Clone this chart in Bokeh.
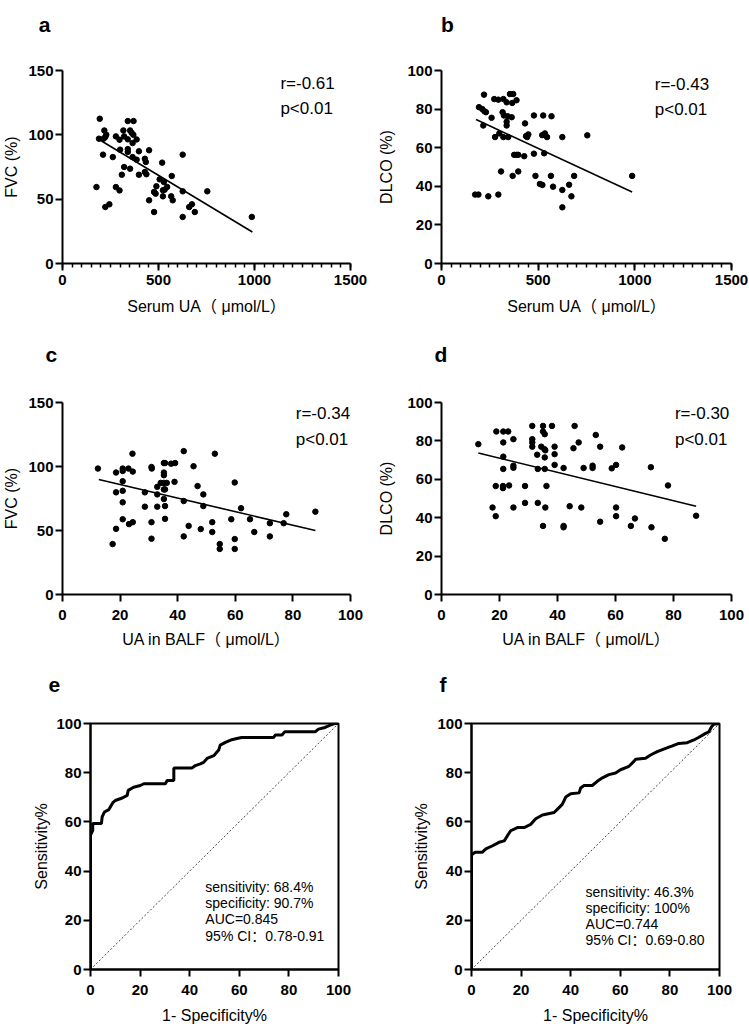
from bokeh.plotting import figure
from bokeh.layouts import column, row
from bokeh.models import Range1d, SingleIntervalTicker
from bokeh.embed import file_html
from bokeh.resources import INLINE
from bokeh.core.properties import value

# ---------------- data ----------------
# panel a: serum UA vs FVC
serum_ua_a = [194, 177, 218, 228, 223, 214, 190, 211, 262, 278, 297, 317, 321, 340, 370, 352, 360, 369,
              340, 386, 365, 300, 340, 340, 398, 451, 365, 386, 429, 434, 321, 352, 309, 398, 429, 437,
              519, 626, 569, 506, 528, 545, 532, 489, 523, 477, 485, 523, 566, 574, 626, 754, 451, 278,
              297, 223, 244, 477, 626, 660, 674, 689, 986]
fvc_a = [112.5, 59.4, 103.4, 100.1, 98.3, 97, 97, 84.6, 82.7, 98.8, 96.2, 103.4, 98.8, 110.7, 110.7, 103.4,
         101.6, 100, 96.5, 96.4, 93.6, 88.5, 88.9, 86.7, 87.2, 88, 82.7, 80.7, 81.4, 78.9, 75, 73.7, 69, 69,
         71.1, 69.4, 78.4, 84.6, 68, 65.4, 63.3, 59.5, 57.4, 60, 56.9, 55.6, 54.3, 52.2, 52.2, 49.1, 56.1,
         56.1, 49.1, 59.4, 56.8, 43.9, 46, 40, 36.2, 43.9, 46, 40, 36.2]
fit_a_x = [184, 989]
fit_a_y = [97, 24.5]

# panel b: serum UA vs DLCO
serum_ua_b = [220, 273, 294, 320, 354, 371, 388, 337, 366, 194, 211, 222, 230, 216, 259, 316, 323, 342,
              363, 337, 337, 299, 277, 320, 345, 432, 478, 526, 569, 437, 449, 443, 521, 535, 546, 625,
              754, 376, 388, 397, 428, 478, 531, 308, 397, 368, 486, 566, 686, 986, 509, 522, 577, 660,
              625, 672, 174, 191, 242, 294, 625]
dlco_b = [87.5, 85.2, 84.9, 85.2, 87.8, 87.8, 84.6, 83.5, 83.2, 81, 80, 78.9, 78.4, 71.5, 75.5, 78.4, 76.7,
          76.3, 75.8, 73.4, 71.5, 67.4, 65.5, 65.5, 65.5, 72.6, 76.7, 76.7, 76.3, 66, 66.9, 65.5, 66.5,
          67.4, 65.5, 65.5, 66.4, 56.3, 56.3, 56.3, 55.6, 56.9, 57.1, 47.7, 47.7, 45.4, 45.4, 45.4, 45.4,
          45.4, 41.2, 40.7, 39.8, 40.8, 38.1, 34.8, 35.7, 35.7, 34.8, 35.7, 29.1]
fit_b_x = [179, 986]
fit_b_y = [74.6, 37]

# panel c: UA in BALF vs FVC
balf_c = [12.3, 17.4, 18.6, 18.6, 18.6, 20.9, 20.9, 22.9, 24.3, 24.4, 20.9, 20.9, 20.9, 20.9, 23.1, 24.4,
          28.6, 28.6, 30.9, 31, 30.9, 30.9, 32.9, 32.9, 32.9, 34.1, 35.2, 35.6, 35.2, 35.2, 35.2, 36.2,
          35.2, 35.6, 35.2, 35.6, 35.6, 37.7, 39.1, 38.9, 42.1, 42.1, 42.1, 43.8, 45.5, 46.9, 48.9, 48.9,
          48, 52, 52, 52.9, 54.6, 54.6, 58.6, 59.8, 59.8, 59.8, 62, 65.1, 66.6, 72, 72, 76.8, 77.7, 87.8]
fvc_c = [98.4, 39.4, 95.3, 79.8, 51.3, 98.4, 96.5, 98.4, 110, 96, 88.5, 81, 72, 58.8, 55, 56.5, 79.8, 68.6,
         99.6, 98.4, 56.5, 43.6, 84.1, 78.2, 68.6, 87.2, 102.7, 102.7, 95.3, 93.2, 87.2, 87.2, 82.1, 82.1,
         74.6, 69.1, 59.1, 102.2, 102.7, 88, 112, 73, 45.4, 53.6, 100.2, 84.7, 78.2, 69.1, 51.1, 56.5,
         48.8, 110, 39.4, 35.6, 58.8, 87.5, 43.3, 35.6, 67.4, 58.8, 48.8, 55.7, 45.4, 55.7, 62.7, 64.7]
fit_c_x = [12.6, 87.8]
fit_c_y = [89.8, 50]

# panel d: UA in BALF vs DLCO
balf_d = [12.7, 17.6, 18.7, 18.9, 21.3, 23, 21.3, 24.8, 21.3, 21.3, 24.8, 24.8, 18.7, 21.2, 21.2, 23.3,
          24.8, 28.8, 28.8, 31.3, 31.3, 31.3, 31.3, 33, 33.2, 33.2, 35, 35, 35.6, 34.4, 35.5, 35.8, 35.6,
          35.6, 36.2, 35.8, 35, 38.1, 39, 39, 39, 42.1, 42.1, 42.1, 44.2, 45.9, 47.3, 45.5, 48.2, 49,
          52.1, 52.1, 53.2, 54.7, 54.7, 58.7, 60.2, 60.2, 60.2, 62.3, 65.3, 66.7, 72.2, 72.4, 77, 78.1, 87.8]
dlco_d = [78.3, 45.3, 40.8, 84.9, 84.9, 84.9, 79.2, 80.9, 71.8, 65.4, 67.1, 66, 56.5, 56.5, 55.4, 56.8,
          45.3, 56.5, 47.7, 87.8, 80.9, 79.2, 77, 72.8, 65.4, 47.7, 87.8, 84.9, 83.5, 77, 75.7, 75.1, 71.4,
          65.4, 56.5, 45.3, 35.7, 87.8, 77, 73.1, 67.5, 65.9, 35.7, 35, 46, 87.8, 79.2, 76.2, 45.3, 65.9,
          67.1, 65.9, 83.1, 77, 37.9, 65.7, 67.5, 45.3, 40.8, 76.6, 35.7, 39.6, 66.3, 35, 29, 56.8, 41]
fit_d_x = [12.7, 87.8]
fit_d_y = [73.7, 46]

# panel e / f: ROC curves (1-specificity %, sensitivity %)
roc_e_fpr = [0, 0, 0.9, 0.9, 4.4, 4.7, 5.6, 7.4, 9.0, 10.0, 12.8, 14.8, 15.2, 17.4, 20.1, 21.5, 30.2,
             30.9, 33.6, 33.6, 40.9, 42.3, 44.3, 45.6, 47.0, 49.7, 51.7, 52.3, 54.4, 57.0, 59.0, 61.0,
             73.8, 74.5, 77.2, 78.3, 90.6, 91.9, 94.6, 96.6, 98.4, 100]
roc_e_tpr = [0, 54.6, 56.6, 59.3, 59.3, 62.0, 64.0, 65.0, 67.8, 68.7, 69.7, 70.8, 72.8, 74.1, 74.8, 75.5,
             75.5, 76.8, 76.8, 81.9, 81.9, 82.9, 83.6, 84.2, 85.8, 86.9, 89.2, 91.2, 92.3, 93.4, 93.9,
             94.3, 94.3, 95.3, 95.3, 96.6, 96.6, 97.7, 98.4, 99.3, 100, 100]
roc_f_fpr = [0, 0, 0.4, 1.7, 4.4, 5.8, 8.5, 11.1, 13.2, 14.5, 15.8, 18.5, 21.2, 23.9, 25.9, 28.6, 33.3,
             34.6, 36.6, 38.0, 40.0, 43.4, 44.0, 45.4, 48.7, 50.7, 52.8, 55.4, 58.1, 60.1, 63.5, 65.5,
             66.2, 70.2, 72.2, 74.9, 78.3, 81.0, 83.6, 87.0, 89.7, 91.7, 94.4, 95.7, 96.8, 97.7, 100]
roc_f_tpr = [0, 46.3, 47.0, 47.7, 47.7, 49.0, 50.3, 51.7, 52.3, 54.4, 56.4, 57.7, 57.7, 59.0, 61.3, 62.8,
             63.8, 65.1, 67.1, 70.1, 71.4, 71.8, 73.8, 74.8, 74.8, 76.5, 77.9, 79.2, 79.9, 81.2, 82.6,
             84.6, 85.5, 85.9, 87.2, 88.6, 89.9, 90.9, 91.9, 92.2, 93.3, 94.4, 96.0, 96.6, 98.7, 99.7, 100]
chance_line = [0, 100]

stats_a = ["r=-0.61", "p<0.01"]
stats_b = ["r=-0.43", "p<0.01"]
stats_c = ["r=-0.34", "p<0.01"]
stats_d = ["r=-0.30", "p<0.01"]
roc_text_e = ["sensitivity: 68.4%", "specificity: 90.7%", "AUC=0.845", "95% CI：0.78-0.91"]
roc_text_f = ["sensitivity: 46.3%", "specificity: 100%", "AUC=0.744", "95% CI：0.69-0.80"]
panel_letters = ["a", "b", "c", "d", "e", "f"]

FONT = "Liberation Sans, Noto Sans CJK SC"


def make_fig(w, h, xr, yr, left, right, top, bottom, box=False):
    p = figure(width=w, height=h, x_range=Range1d(*xr), y_range=Range1d(*yr),
               output_backend="svg", toolbar_location=None,
               min_border_left=left, min_border_right=right,
               min_border_top=top, min_border_bottom=bottom)
    p.xgrid.visible = False
    p.ygrid.visible = False
    p.background_fill_color = "white"
    p.border_fill_color = "white"
    if box:
        p.outline_line_color = "black"
        p.outline_line_width = 2
        p.outline_line_alpha = 1
    else:
        p.outline_line_color = None
    for ax in (p.xaxis[0], p.yaxis[0]):
        ax.axis_line_width = 2
        ax.axis_line_color = "black"
        ax.major_tick_line_width = 2
        ax.major_tick_line_color = "black"
        ax.major_tick_out = 7
        ax.major_tick_in = 0
        ax.minor_tick_line_width = 1.5
        ax.minor_tick_line_color = "black"
        ax.minor_tick_out = 4
        ax.minor_tick_in = 0
        ax.major_label_text_font = FONT
        ax.major_label_text_font_style = "bold"
        ax.major_label_text_font_size = "15px"
        ax.major_label_text_color = "black"
        ax.major_label_standoff = 2
        ax.axis_label_text_font = FONT
        ax.axis_label_text_font_style = "normal"
        ax.axis_label_text_font_size = "16px"
        ax.axis_label_text_color = "black"
    return p


def header(w, h, lx, ly, t):
    # strip above a panel that carries the panel letter (pixel-unit ranges)
    p = figure(width=w, height=h, x_range=Range1d(0, w), y_range=Range1d(0, h),
               output_backend="svg", toolbar_location=None,
               x_axis_location=None, y_axis_location=None, min_border=0)
    p.xgrid.visible = False
    p.ygrid.visible = False
    p.outline_line_color = None
    p.background_fill_color = "white"
    p.border_fill_color = "white"
    p.text(x=[lx], y=[ly], text=[t], text_font=value(FONT), text_font_style="bold",
           text_font_size="21px", text_align="center", text_baseline="alphabetic", text_color="black")
    return p


def scatter_panel(w, h, xr, yr, left, right, top, bottom, xs, ys, fx, fy,
                  xint, xminor, yint, xlabel, ylabel, ylab_standoff, xtick_standoff, xlab_standoff,
                  stats, sx, sy):
    p = make_fig(w, h, xr, yr, left, right, top, bottom)
    p.xaxis.ticker = SingleIntervalTicker(interval=xint, num_minor_ticks=xminor)
    p.yaxis.ticker = SingleIntervalTicker(interval=yint, num_minor_ticks=0)
    p.xaxis.axis_label = xlabel
    p.yaxis.axis_label = ylabel
    p.yaxis.axis_label_standoff = ylab_standoff
    p.xaxis.major_label_standoff = xtick_standoff
    p.xaxis.axis_label_standoff = xlab_standoff
    p.line(fx, fy, line_color="black", line_width=1.6)
    p.scatter(xs, ys, marker="circle", size=5.5, fill_color="black", line_color="black")
    p.text(x=[sx, sx], y=sy, text=stats, text_font=value(FONT), text_font_size="17px",
           text_baseline="middle", text_align="left", text_color="black")
    return p


def roc_panel(w, h, left, right, top, bottom, fpr, tpr, texts, tx, ty, ylab_standoff):
    p = make_fig(w, h, (0, 100), (0, 100), left, right, top, bottom, box=True)
    p.xaxis.ticker = SingleIntervalTicker(interval=20, num_minor_ticks=0)
    p.yaxis.ticker = SingleIntervalTicker(interval=20, num_minor_ticks=0)
    p.xaxis.axis_label = "1- Specificity%"
    p.yaxis.axis_label = "Sensitivity%"
    p.yaxis.axis_label_standoff = ylab_standoff
    p.xaxis.major_label_standoff = 8
    p.xaxis.axis_label_standoff = 9
    p.line(chance_line, chance_line, line_color="#444444", line_width=1, line_dash="2 2")
    p.line(fpr, tpr, line_color="black", line_width=3)
    p.text(x=[tx] * len(texts), y=ty, text=texts, text_font=value(FONT), text_font_size="14px",
           text_baseline="middle", text_align="left", text_color="black")
    return p


ha = header(375, 45, 44, 21, panel_letters[0])
hb = header(374, 45, 72, 21, panel_letters[1])
pa = scatter_panel(375, 275, (0, 1500), (0, 150), 58, 25, 25, 57, serum_ua_a, fvc_a, fit_a_x, fit_a_y,
                   500, 10, 50, "Serum UA（ μmol/L）", "FVC (%)", 5, 4, 10,
                   stats_a, 1135, [140, 120.5])
pb = scatter_panel(374, 275, (0, 1500), (0, 100), 65, 18, 25, 57, serum_ua_b, dlco_b, fit_b_x, fit_b_y,
                   500, 10, 20, "Serum UA（ μmol/L）", "DLCO (%)", 9, 4, 10,
                   stats_b, 1103, [93, 80])
hc = header(375, 50, 50.8, 16, panel_letters[2])
hd = header(374, 50, 65.5, 16, panel_letters[3])
pc = scatter_panel(375, 280, (0, 100), (0, 150), 58, 25, 32, 55, balf_c, fvc_c, fit_c_x, fit_c_y,
                   20, 0, 50, "UA in BALF（ μmol/L）", "FVC (%)", 5, 8, 8,
                   stats_c, 81, [141.5, 121])
pd_ = scatter_panel(374, 280, (0, 100), (0, 100), 64, 18, 32, 55, balf_d, dlco_d, fit_d_x, fit_d_y,
                    20, 0, 20, "UA in BALF（ μmol/L）", "DLCO (%)", 9, 8, 8,
                    stats_d, 80.5, [94.3, 80.7])
he = header(375, 50, 53.8, 16, panel_letters[4])
hf = header(374, 50, 67.5, 16, panel_letters[5])
pe = roc_panel(375, 326, 90, 37, 23, 56, roc_e_fpr, roc_e_tpr, roc_text_e, 46.3,
               [33.7, 27.0, 20.4, 13.7], 3)
pf = roc_panel(374, 326, 96, 30, 23, 56, roc_f_fpr, roc_f_tpr, roc_text_f, 46.0,
               [31.6, 25.0, 18.4, 11.8], 4)

layout = column(row(ha, hb), row(pa, pb), row(hc, hd), row(pc, pd_), row(he, hf), row(pe, pf))

open("out.html", "w").write(file_html(layout, INLINE))
